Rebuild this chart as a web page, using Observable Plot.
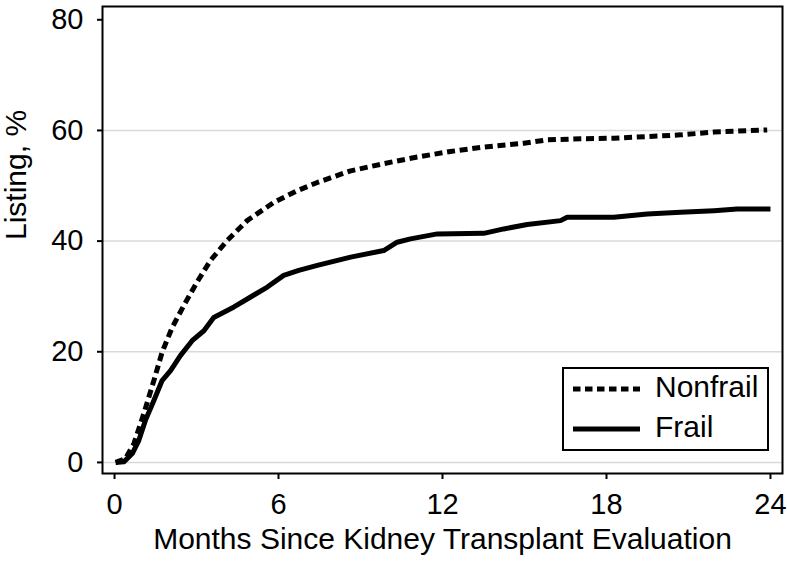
<!DOCTYPE html>
<html><head><meta charset="utf-8">
<script src="https://cdn.jsdelivr.net/npm/d3@7"></script>
<script src="https://cdn.jsdelivr.net/npm/@observablehq/plot@0.6"></script>
<style>
body{margin:0;background:#fff;font-family:"Liberation Sans",Arial,sans-serif}
#wrap{position:relative;width:787px;height:562px}
#legend{position:absolute;left:562px;top:367px;width:203px;height:80px;border:2px solid #000;background:#fff}
#legend svg{position:absolute;left:0;top:0}
</style></head><body><div id="wrap"></div>
<script>
const nonfrailMonths = [0.04,0.4,0.71,1.07,1.44,1.74,2.11,2.54,3.02,3.51,4.12,4.85,5.83,6.68,7.42,8.64,9.85,11.08,12.29,13.51,14.98,15.83,17.05,18.27,19.49,20.71,21.93,23.88];
const nonfrailPct = [0,0.7,3.4,8.8,14.8,19.9,24.4,28.4,32.6,36.5,40.1,43.7,47.0,49.1,50.6,52.7,54.0,55.2,56.2,57.0,57.7,58.3,58.5,58.6,58.9,59.2,59.7,60.1];
const frailMonths = [0.04,0.34,0.65,0.89,1.13,1.44,1.74,2.05,2.41,2.84,3.27,3.63,4.37,4.98,5.59,6.19,6.74,7.42,8.64,9.85,10.34,10.83,11.81,13.51,14.24,15.10,16.32,16.56,18.27,19.49,20.71,21.93,22.78,24.0];
const frailPct = [0,0.1,1.6,4.0,7.6,11.2,14.8,16.6,19.3,22.0,23.8,26.2,28.1,29.9,31.7,33.8,34.7,35.6,37.1,38.3,39.8,40.4,41.3,41.4,42.2,43.0,43.7,44.3,44.3,44.9,45.2,45.5,45.8,45.8];
const xTicks = [0,6,12,18,24];
const yTicks = [0,20,40,60,80];
const gridValues = [0,20,40,60];
const seriesNames = ["Nonfrail","Frail"];
const xTitle = "Months Since Kidney Transplant Evaluation";
const yTitle = "Listing, %";

const nonfrail = nonfrailMonths.map((m,i)=>({m, p: nonfrailPct[i]}));
const frail = frailMonths.map((m,i)=>({m, p: frailPct[i]}));
const font = "Liberation Sans, Arial, Helvetica, sans-serif";

const chart = Plot.plot({
  width: 787, height: 562,
  marginLeft: 102, marginRight: 5, marginTop: 6, marginBottom: 89,
  x: {domain: [-0.44, 24.44]},
  y: {domain: [-2, 82.4]},
  style: {fontFamily: font, fontSize: "29px", background: "#fff", color: "#000"},
  marks: [
    Plot.ruleY(gridValues, {stroke: "#d9d9d9", strokeWidth: 1.5}),
    Plot.line(nonfrail, {x: "m", y: "p", stroke: "#000", strokeWidth: 5, strokeDasharray: "8,4.7", strokeLinecap: "butt", strokeLinejoin: "miter"}),
    Plot.line(frail, {x: "m", y: "p", stroke: "#000", strokeWidth: 5, strokeLinecap: "butt"}),
    Plot.frame({stroke: "#000", strokeWidth: 2}),
    Plot.axisX({ticks: xTicks, tickSize: 6, tickPadding: 14, tickFormat: d => d, label: null, strokeWidth: 2, fontSize: 29}),
    Plot.axisY({ticks: yTicks, tickSize: 5, tickPadding: 14, tickFormat: d => d, label: null, strokeWidth: 2, fontSize: 29}),
    Plot.text([xTitle], {text: d => d, frameAnchor: "bottom", dy: 75, fontSize: 30}),
    Plot.text([yTitle], {text: d => d, frameAnchor: "left", rotate: -90, dx: -86, fontSize: 30})
  ]
});
const wrap = document.getElementById("wrap");
wrap.appendChild(chart);

const legend = document.createElement("div");
legend.id = "legend";
const ns = "http://www.w3.org/2000/svg";
const lsvg = document.createElementNS(ns, "svg");
lsvg.setAttribute("width", 203); lsvg.setAttribute("height", 80);
const styles = [{dash: "7.5,4.5"}, {dash: null}];
seriesNames.forEach((name, i) => {
  const y = 20 + i * 40;
  const ln = document.createElementNS(ns, "line");
  ln.setAttribute("x1", 9); ln.setAttribute("x2", 76);
  ln.setAttribute("y1", y); ln.setAttribute("y2", y);
  ln.setAttribute("stroke", "#000"); ln.setAttribute("stroke-width", 5);
  if (styles[i].dash) ln.setAttribute("stroke-dasharray", styles[i].dash);
  lsvg.appendChild(ln);
  const t = document.createElementNS(ns, "text");
  t.setAttribute("x", 91); t.setAttribute("y", 28 + i * 40);
  t.setAttribute("font-family", font); t.setAttribute("font-size", 30);
  t.textContent = name;
  lsvg.appendChild(t);
});
legend.appendChild(lsvg);
wrap.appendChild(legend);
</script></body></html>
